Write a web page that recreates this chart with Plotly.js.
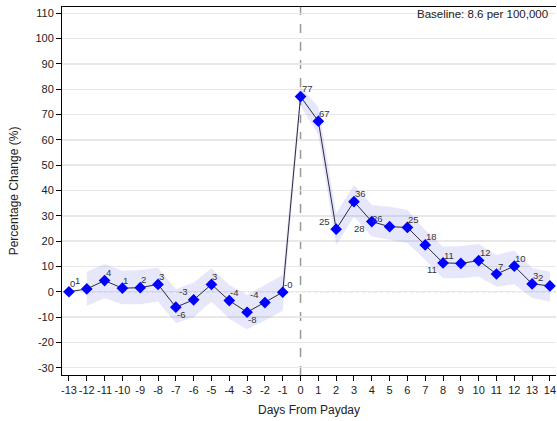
<!DOCTYPE html>
<html>
<head>
<meta charset="utf-8">
<script src="https://cdn.plot.ly/plotly-3.0.1.min.js"></script>
<style>html,body{margin:0;padding:0;background:#fff;}#chart{width:557px;height:421px;}</style>
</head>
<body>
<div id="chart"></div>
<script>
var days = [-13,-12,-11,-10,-9,-8,-7,-6,-5,-4,-3,-2,-1,0,1,2,3,4,5,6,7,8,9,10,11,12,13,14];
var pctChange = [0,1.1,4.4,1.4,1.6,2.9,-6.1,-3.2,2.9,-3.5,-8.1,-4.3,-0.2,77.1,67.4,24.7,35.6,27.7,25.7,25.4,18.5,11.4,11.2,12.3,7.0,10.1,3.1,2.3];
var pointLabels = ["0","1","4","1","2","3","-6","-3","3","-4","-8","-4","-0","77","67","25","36","28","26","25","18","11","11","12","7","10","3","2"];
var labelPos = ["top right","top left","top right","top right","top right","top right","bottom right","top left","top right","top right","bottom right","top left","top right","top right","top right","top left","top right","bottom left","top left","top right","top right","bottom left","top left","top right","top right","top right","top right","top left"];
var bandDays = [-12,-11,-10,-9,-8,-7,-6,-5,-4,-3,-2,-1,0,1,2,3,4,5,6,7,8,9,10,11,12,13,14];
var bandUpper = [7.9,11.0,8.3,8.6,9.5,1.0,3.6,9.3,2.7,-1.3,2.7,6.6,81.0,73.0,31.0,42.2,34.3,33.6,32.3,24.4,17.8,18.1,18.9,14.5,16.3,9.4,7.9];
var bandLower = [-5.5,-2.6,-4.9,-4.9,-3.9,-12.4,-10.1,-3.9,-10.7,-14.8,-11.4,-7.5,73.5,62.0,18.5,29.7,21.8,20.5,19.3,12.6,5.3,5.3,6.0,2.0,3.0,-2.5,-3.9];
var yTicks = [-30,-20,-10,0,10,20,30,40,50,60,70,80,90,100,110];
var baselineText = "Baseline: 8.6 per 100,000";

var fam = "Liberation Sans, Arial, sans-serif";
var tickFont = {family: fam, size: 11, color: "#222"};

var traces = [
  {x: bandDays, y: bandLower, mode: "lines", line: {width: 0}, hoverinfo: "skip", showlegend: false},
  {x: bandDays, y: bandUpper, mode: "lines", line: {width: 0}, fill: "tonexty", fillcolor: "rgba(120,120,240,0.18)", hoverinfo: "skip", showlegend: false},
  {x: days, y: pctChange, mode: "lines+markers",
   line: {color: "#2a2a3c", width: 1},
   marker: {symbol: "diamond", size: 9, color: "#0000ff"},
   cliponaxis: false, showlegend: false}
];

var labelAnns = days.map(function (d, i) {
  var p = labelPos[i];
  var right = p.indexOf("right") >= 0;
  var top = p.indexOf("top") === 0;
  return {
    xref: "x", yref: "y", x: d, y: pctChange[i], text: pointLabels[i], showarrow: false,
    xanchor: right ? "left" : "right", yanchor: "middle", borderpad: 0, borderwidth: 0,
    xshift: right ? 1 : -6.5, yshift: top ? 8 : -7,
    font: {family: fam, size: 9.5, color: "#333"}
  };
});

var layout = {
  width: 557, height: 421,
  margin: {l: 62, r: 1, t: 7, b: 46},
  paper_bgcolor: "#fff", plot_bgcolor: "#fff",
  font: tickFont,
  showlegend: false,
  xaxis: {
    range: [-13.39, 14.34],
    tickvals: days, ticktext: days.map(String), tickangle: 0,
    ticks: "outside", ticklen: 5, tickcolor: "#000",
    showgrid: false, zeroline: false,
    showline: true, linecolor: "#000", linewidth: 1, mirror: true,
    tickfont: tickFont,
    title: {text: "Days From Payday", font: {family: fam, size: 12, color: "#222"}, standoff: 10}
  },
  yaxis: {
    range: [-32.9, 112.5],
    tickvals: yTicks, ticktext: yTicks.map(String),
    ticks: "outside", ticklen: 5, tickcolor: "#000",
    showgrid: true, gridcolor: "#e8e8e8", gridwidth: 1.5,
    zeroline: false,
    showline: true, linecolor: "#000", linewidth: 1,
    tickfont: tickFont,
    title: {text: "Percentage Change (%)", font: {family: fam, size: 12, color: "#222"}, standoff: 14}
  },
  shapes: [
    {type: "line", xref: "paper", x0: 0, x1: 1, yref: "y", y0: 0, y1: 0, line: {color: "#aaa", width: 1, dash: "dot"}, layer: "below"},
    {type: "line", xref: "x", x0: 0, x1: 0, yref: "paper", y0: 0, y1: 1, line: {color: "#999", width: 1.5, dash: "dash"}, layer: "below"}
  ],
  annotations: [
    {xref: "paper", yref: "paper", x: 0.988, y: 0.981, xanchor: "right", yanchor: "middle", text: baselineText, showarrow: false,
     font: {family: fam, size: 11.5, color: "#222"}}
  ].concat(labelAnns)
};

Plotly.newPlot("chart", traces, layout, {displayModeBar: false, staticPlot: true});
</script>
</body>
</html>
